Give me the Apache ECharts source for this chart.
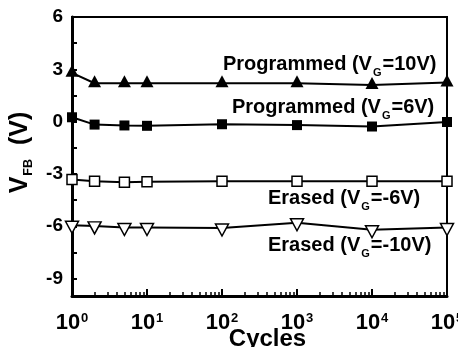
<!DOCTYPE html>
<html><head><meta charset="utf-8">
<script src="https://cdn.jsdelivr.net/npm/echarts@6/dist/echarts.min.js"></script>
<style>html,body{margin:0;padding:0;background:#fff}#c{width:458px;height:347px}</style>
</head><body><div id="c"></div>
<script>
// ---- data ----
const cycles = [1, 2, 5, 10, 100, 1000, 10000, 100000];
const prog10V = [2.8, 2.2, 2.2, 2.2, 2.2, 2.2, 2.1, 2.25];
const prog6V = [0.25, -0.17, -0.22, -0.24, -0.15, -0.2, -0.28, -0.02];
const erased6V = [-3.32, -3.42, -3.48, -3.45, -3.42, -3.42, -3.42, -3.42];
const erased10V = [-5.94, -5.98, -6.07, -6.07, -6.1, -5.8, -6.2, -6.07];
const yLabelValues = [-9, -6, -3, 0, 3, 6];
const yTickValues = [-9, -7.5, -6, -4.5, -3, -1.5, 0, 1.5, 3, 4.5];
const decades = [0, 1, 2, 3, 4];
const minorMultipliers = [2, 3, 4, 5, 6, 7, 8, 9];
const labelPre = ['Programmed (V', 'Programmed (V', 'Erased (V', 'Erased (V'];
const labelSub = ['G', 'G', 'G', 'G'];
const labelPost = ['=10V)', '=6V)', '=-6V)', '=-10V)'];
const xName = 'Cycles';

// ---- chart ----
const F = '"Liberation Sans", Arial, sans-serif';
const minorTicks = [];
decades.forEach(n => minorMultipliers.forEach(k => minorTicks.push(Math.log10(k * Math.pow(10, n)))));

const labelPos = [[223, 54], [232, 97.5], [268, 188], [268, 235]];
const richLabel = {
  m: {fontFamily: F, fontSize: 20, fontWeight: 'bold', color: '#000', lineHeight: 21, verticalAlign: 'top'},
  s: {fontFamily: F, fontSize: 11, fontWeight: 'bold', color: '#000', lineHeight: 11, padding: [13, 1, 0, 1], verticalAlign: 'top'}
};

function mk(vals) { return cycles.map((c, i) => [c, vals[i]]); }
const filled = {color: '#000'};
const open = {color: '#fff', borderColor: '#000', borderWidth: 1.5};
const line = {color: '#000', width: 2};

const chart = echarts.init(document.getElementById('c'), null, {renderer: 'canvas'});
chart.setOption({
  animation: false,
  backgroundColor: '#fff',
  grid: {left: 72, right: 11, top: 17, bottom: 51, show: true, borderColor: '#000', borderWidth: 2, containLabel: false, outerBoundsMode: 'none'},
  xAxis: [{
    type: 'log', logBase: 10, min: 1, max: 100000, splitNumber: 5,
    axisLine: {show: true, onZero: false, lineStyle: {color: '#000', width: 3}},
    axisTick: {show: true, inside: true, length: 7, lineStyle: {color: '#000', width: 2}},
    splitLine: {show: false},
    axisLabel: {
      margin: 16,
      formatter: v => '{b|10}{s|' + Math.round(Math.log10(v)) + '}',
      rich: {
        b: {fontFamily: F, fontSize: 22, fontWeight: 'bold', color: '#000', lineHeight: 24, verticalAlign: 'top'},
        s: {fontFamily: F, fontSize: 13, fontWeight: 'bold', color: '#000', lineHeight: 8, verticalAlign: 'top', padding: [0, 0, 0, 1]}
      }
    },
    name: xName, nameLocation: 'middle', nameGap: 31, nameMoveOverlap: false,
    nameTextStyle: {fontFamily: F, fontSize: 24, fontWeight: 'bold', color: '#000', padding: [0, 0, 0, 16]}
  }, {
    type: 'value', min: 0, max: 5, position: 'bottom',
    axisLine: {show: false, onZero: false}, axisLabel: {show: false}, splitLine: {show: false},
    axisTick: {show: true, inside: true, length: 4, customValues: minorTicks, lineStyle: {color: '#000', width: 1.5}}
  }],
  yAxis: {
    type: 'value', min: -10, max: 6,
    axisLine: {show: true, onZero: false, lineStyle: {color: '#000', width: 3}},
    axisTick: {show: true, inside: true, length: 5, customValues: yTickValues, lineStyle: {color: '#000', width: 2}},
    splitLine: {show: false},
    axisLabel: {customValues: yLabelValues, fontFamily: F, fontSize: 19, fontWeight: 'bold', color: '#000', margin: 9},
    name: '{v|V}{s|FB}{v|(V)}', nameLocation: 'middle', nameGap: 39, nameMoveOverlap: false,
    nameTextStyle: {
      padding: [0, 0, 0, 8],
      rich: {
        v: {fontFamily: F, fontSize: 25, fontWeight: 'bold', color: '#000', lineHeight: 25, verticalAlign: 'top'},
        s: {fontFamily: F, fontSize: 12.5, fontWeight: 'bold', color: '#000', lineHeight: 12, padding: [14, 14, 0, 1], verticalAlign: 'top'}
      }
    }
  },
  series: [
    {type: 'line', data: mk(prog10V), symbol: 'triangle', symbolSize: [13, 12], symbolOffset: [0, -2], itemStyle: filled, lineStyle: line},
    {type: 'line', data: mk(prog6V), symbol: 'rect', symbolSize: 10, itemStyle: filled, lineStyle: line},
    {type: 'line', data: mk(erased6V), symbol: 'rect', symbolSize: 10, itemStyle: open, lineStyle: line},
    {type: 'line', data: mk(erased10V), symbol: 'triangle', symbolRotate: 180, symbolSize: [13, 12], symbolOffset: [0, 2], itemStyle: open, lineStyle: line}
  ],
  graphic: labelPre.map((p, i) => ({
    type: 'text', x: labelPos[i][0], y: labelPos[i][1], z: 100,
    style: {text: '{m|' + p + '}{s|' + labelSub[i] + '}{m|' + labelPost[i] + '}', rich: richLabel, align: 'left', verticalAlign: 'top'}
  }))
});
</script></body></html>
